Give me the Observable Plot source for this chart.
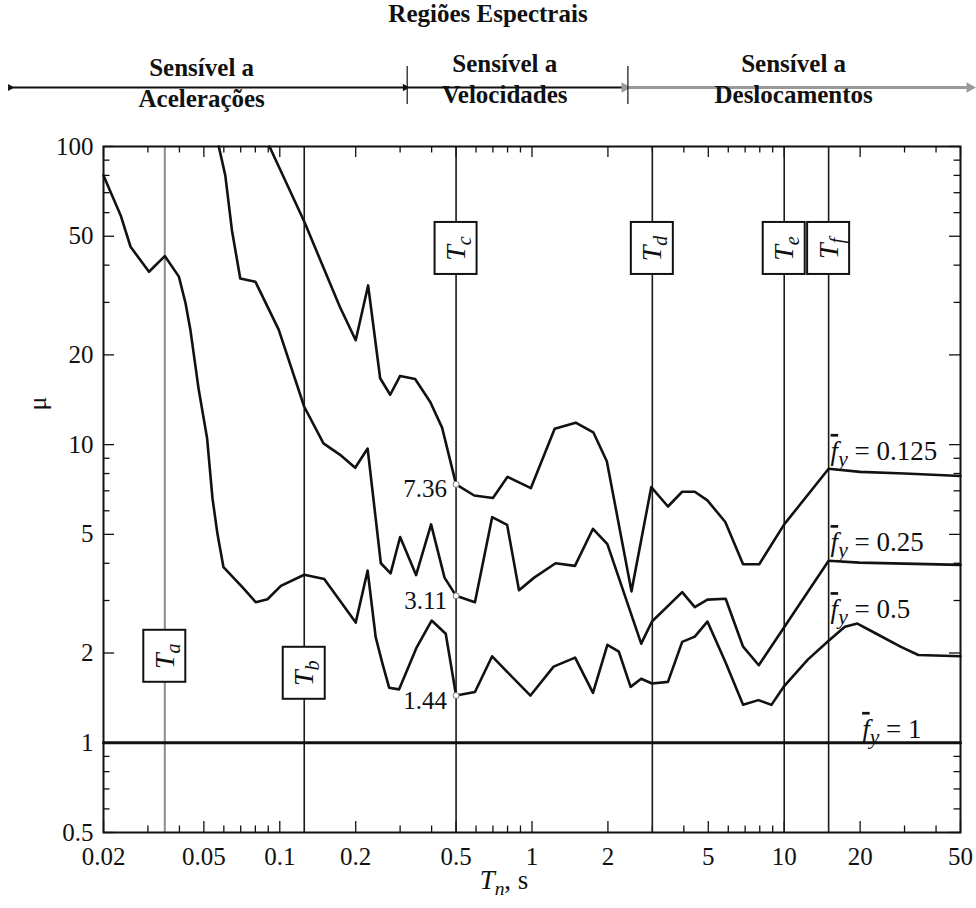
<!DOCTYPE html>
<html>
<head>
<meta charset="utf-8">
<script src="https://cdn.jsdelivr.net/npm/d3@7"></script>
<script src="https://cdn.jsdelivr.net/npm/@observablehq/plot@0.6"></script>
<style>
  body { margin: 0; background: #fff; }
  #title { height: 40px; line-height: 44px; text-align: center; font: bold 25px "Liberation Serif", serif; color: #111; }
  #chart svg { display: block; }
  #chart svg text { font-family: "Liberation Serif", serif; }
</style>
</head>
<body>
<div id="title">Regiões Espectrais</div>
<div id="chart"></div>
<script>
// ---------------- data ----------------
// Normalized yield strength f̄y = 0.125
const T_fy0125 = [0.091, 0.125, 0.173, 0.2, 0.224, 0.25, 0.274, 0.3, 0.344, 0.395, 0.44, 0.5, 0.59, 0.70, 0.80, 0.99, 1.23, 1.49, 1.75, 1.98, 2.48, 2.97, 3.46, 3.94, 4.42, 4.96, 5.84, 6.87, 7.96, 10, 15, 20, 30, 50];
const mu_fy0125 = [100, 56, 29, 22.4, 34.2, 16.7, 14.7, 17.0, 16.6, 13.9, 11.4, 7.36, 6.75, 6.62, 7.8, 7.15, 11.3, 11.85, 11.0, 8.8, 3.22, 7.2, 6.2, 6.95, 6.95, 6.5, 5.5, 3.97, 3.97, 5.4, 8.3, 8.1, 8.0, 7.85];
// f̄y = 0.25
const T_fy025 = [0.0573, 0.0608, 0.0646, 0.0697, 0.08, 0.099, 0.125, 0.149, 0.173, 0.199, 0.223, 0.2516, 0.275, 0.30, 0.347, 0.398, 0.45, 0.5, 0.594, 0.695, 0.797, 0.888, 1.02, 1.24, 1.48, 1.745, 1.99, 2.71, 2.99, 3.94, 4.42, 4.96, 5.86, 6.87, 7.93, 15, 19.85, 50];
const mu_fy025 = [100, 80, 52.4, 36.1, 35.2, 24.3, 13.4, 10.1, 9.26, 8.36, 9.7, 4.0, 3.7, 4.9, 3.65, 5.4, 3.58, 3.11, 2.96, 5.71, 5.38, 3.25, 3.58, 4.0, 3.92, 5.22, 4.64, 2.15, 2.55, 3.2, 2.85, 3.02, 3.04, 2.1, 1.82, 4.08, 4.02, 3.95];
// f̄y = 0.5
const T_fy05 = [0.02, 0.0234, 0.0256, 0.0303, 0.035, 0.0398, 0.0423, 0.0442, 0.0477, 0.0515, 0.0541, 0.0566, 0.0598, 0.0712, 0.0803, 0.0894, 0.101, 0.125, 0.150, 0.175, 0.2, 0.223, 0.240, 0.2555, 0.2714, 0.297, 0.349, 0.40, 0.455, 0.5, 0.594, 0.695, 0.797, 0.986, 1.218, 1.482, 1.745, 1.99, 2.21, 2.46, 2.71, 2.99, 3.46, 3.94, 4.42, 4.96, 5.84, 6.87, 7.9, 8.9, 10, 12.4, 15, 17.4, 19.5, 23, 28.9, 34, 50];
const mu_fy05 = [80, 58.7, 46.1, 38.0, 42.9, 36.6, 29.8, 24.3, 15.3, 10.5, 6.6, 5.02, 3.88, 3.32, 2.96, 3.03, 3.36, 3.66, 3.54, 2.96, 2.53, 3.78, 2.26, 1.84, 1.53, 1.51, 2.09, 2.57, 2.32, 1.44, 1.48, 1.95, 1.73, 1.44, 1.80, 1.93, 1.47, 2.13, 2.02, 1.54, 1.64, 1.58, 1.60, 2.18, 2.27, 2.55, 1.87, 1.34, 1.39, 1.34, 1.55, 1.9, 2.2, 2.45, 2.51, 2.33, 2.10, 1.97, 1.95];
// f̄y = 1 (elastic)
const T_fy1 = [0.02, 50];
const mu_fy1 = [1, 1];

// curve labels
const curveNames = ["0.125", "0.25", "0.5", "1"];
const curveLabelT = [15, 15, 15, 20];
const curveLabelMu = [9.5, 4.7, 2.8, 1.11];

// marked values at Tn = 0.5 s
const markedT = [0.5, 0.5, 0.5];
const markedMu = [7.36, 3.11, 1.44];

// spectral period boundaries Ta ... Tf
const periodNames = ["a", "b", "c", "d", "e", "f"];
const periodT = [0.035, 0.125, 0.5, 3, 10, 15];
const periodBoxMu = [1.95, 1.71, 45.5, 45.5, 45.5, 45.5];

// spectral regions (header)
const regionNames = ["Acelerações", "Velocidades", "Deslocamentos"];
const regionBounds = [0.0087, 0.32, 2.4, 56];
const regionLabelT = [0.049, 0.78, 10.9];
const regionLabelRaise = [65, 69, 69];   // px above the frame top

// axis tick labels
const xTickValues = [0.02, 0.05, 0.1, 0.2, 0.5, 1, 2, 5, 10, 20, 50];
const yTickValues = [0.5, 1, 2, 5, 10, 20, 50, 100];

// ---------------- layout ----------------
const FONT = "Liberation Serif";
const W = 976, H = 868, mL = 103, mR = 16, mT = 106, mB = 76;
const xDomain = [0.02, 50], yDomain = [0.5, 100];
const pxPerDecX = (W - mL - mR) / Math.log10(xDomain[1] / xDomain[0]);
const pxPerDecY = (H - mT - mB) / Math.log10(yDomain[1] / yDomain[0]);
const kx = px => Math.pow(10, px / pxPerDecX);   // factor equal to px pixels along x
const ky = px => Math.pow(10, px / pxPerDecY);   // factor equal to px pixels along y
const above = px => yDomain[1] * ky(px);         // y value px pixels above the frame top

const curves = [
  {fy: "0.125", T: T_fy0125, mu: mu_fy0125},
  {fy: "0.25", T: T_fy025, mu: mu_fy025},
  {fy: "0.5", T: T_fy05, mu: mu_fy05}
];
const rows = [];
curves.forEach(c => c.T.forEach((t, i) => rows.push({fy: c.fy, T: t, mu: c.mu[i]})));
const elasticRows = T_fy1.map((t, i) => ({T: t, mu: mu_fy1[i]}));

const near = (a, b) => Math.abs(a / b - 1) < 1e-6;
const xAllTicks = d3.scaleLog().domain(xDomain).ticks();
const yAllTicks = d3.scaleLog().domain(yDomain).ticks();
const xMinor = xAllTicks.filter(v => !xTickValues.some(m => near(m, v)));
const yMinor = yAllTicks.filter(v => !yTickValues.some(m => near(m, v)));
const majorLen = 11, minorLen = 6.5;

const pIdx = d3.range(periodT.length);
const rIdx = d3.range(regionNames.length);
const cIdx = d3.range(curveNames.length);
const mIdx = d3.range(markedT.length);

const svg = Plot.plot({
  width: W, height: H,
  marginLeft: mL, marginRight: mR, marginTop: mT, marginBottom: mB,
  style: {fontFamily: FONT, fontSize: "25px", color: "#111", background: "white"},
  x: {type: "log", domain: xDomain},
  y: {type: "log", domain: yDomain},
  marks: [
    // inward ticks on all four sides
    Plot.ruleX(xMinor, {x: d => d, y1: yDomain[0], y2: yDomain[0] * ky(minorLen), strokeWidth: 1.3}),
    Plot.ruleX(xTickValues, {x: d => d, y1: yDomain[0], y2: yDomain[0] * ky(majorLen), strokeWidth: 1.3}),
    Plot.ruleX(xMinor, {x: d => d, y1: yDomain[1] / ky(minorLen), y2: yDomain[1], strokeWidth: 1.3}),
    Plot.ruleX(xTickValues, {x: d => d, y1: yDomain[1] / ky(majorLen), y2: yDomain[1], strokeWidth: 1.3}),
    Plot.ruleY(yMinor, {y: d => d, x1: xDomain[0], x2: xDomain[0] * kx(minorLen), strokeWidth: 1.3}),
    Plot.ruleY(yTickValues, {y: d => d, x1: xDomain[0], x2: xDomain[0] * kx(majorLen), strokeWidth: 1.3}),
    Plot.ruleY(yMinor, {y: d => d, x1: xDomain[1] / kx(minorLen), x2: xDomain[1], strokeWidth: 1.3}),
    Plot.ruleY(yTickValues, {y: d => d, x1: xDomain[1] / kx(majorLen), x2: xDomain[1], strokeWidth: 1.3}),

    // axes tick labels
    Plot.axisX(xTickValues, {anchor: "bottom", tickSize: 0, tickPadding: 15, text: d => String(d), fontSize: 25, fontFamily: FONT, label: null}),
    Plot.axisY(yTickValues, {anchor: "left", tickSize: 0, tickPadding: 10, text: d => String(d), fontSize: 25, fontFamily: FONT, label: null}),

    // period boundary lines
    Plot.ruleX(pIdx.filter(i => i === 0), {x: i => periodT[i], stroke: "#8c8c8c", strokeWidth: 2}),
    Plot.ruleX(pIdx.filter(i => i > 0), {x: i => periodT[i], stroke: "#1a1a1a", strokeWidth: 1.6}),
    Plot.rect(pIdx, {
      x1: i => periodT[i] / kx(21), x2: i => periodT[i] * kx(21),
      y1: i => periodBoxMu[i] / ky(26), y2: i => periodBoxMu[i] * ky(26),
      fill: "white", stroke: "#111", strokeWidth: 2
    }),
    Plot.text(pIdx, {x: i => periodT[i], y: i => periodBoxMu[i], text: i => "T" + periodNames[i], rotate: -90, fontSize: 28, fontStyle: "italic", fontFamily: FONT}),

    // elastic line and ductility curves
    Plot.line(elasticRows, {x: "T", y: "mu", stroke: "#111", strokeWidth: 3}),
    Plot.line(rows, {x: "T", y: "mu", z: "fy", stroke: "#111", strokeWidth: 2.6, strokeLinejoin: "round"}),

    // marked values at Tn = 0.5
    Plot.dot(mIdx, {x: i => markedT[i], y: i => markedMu[i], r: 3, fill: "white", stroke: "#777", strokeWidth: 1}),
    Plot.text(mIdx, {x: i => markedT[i], y: i => markedMu[i], text: i => markedMu[i].toFixed(2), textAnchor: "end", dx: -9, dy: 5, fontSize: 25, fontFamily: FONT}),

    // curve labels
    Plot.text(cIdx, {x: i => curveLabelT[i], y: i => curveLabelMu[i], text: i => "fy = " + curveNames[i], textAnchor: "start", dx: 2, fontSize: 27, fontFamily: FONT}),

    // axis titles
    Plot.text(["μ"], {frameAnchor: "left", dx: -66, dy: -79, rotate: -90, fontSize: 26, fontFamily: FONT}),
    Plot.text(["Tn, s"], {frameAnchor: "bottom", dx: -28, dy: 56, fontSize: 27, fontFamily: FONT}),

    // spectral regions header
    Plot.link(rIdx.filter(i => i < 2), {x1: i => regionBounds[i], x2: i => regionBounds[i + 1], y1: above(59), y2: above(59), stroke: "#111", strokeWidth: 2, markerStart: "arrow", markerEnd: "arrow"}),
    Plot.link(rIdx.filter(i => i === 2), {x1: i => regionBounds[i], x2: i => regionBounds[i + 1], y1: above(59), y2: above(59), stroke: "#9a9a9a", strokeWidth: 3, markerStart: "arrow", markerEnd: "arrow"}),
    Plot.ruleX(regionBounds.slice(1, 3), {x: d => d, y1: above(42), y2: above(80), stroke: "#111", strokeWidth: 1.2}),
    Plot.text(rIdx, {x: i => regionLabelT[i], y: i => above(regionLabelRaise[i]), text: i => "Sensível a\n" + regionNames[i], lineHeight: 1.22, fontWeight: "bold", fontSize: 25, fontFamily: FONT}),

    Plot.frame({stroke: "#111", strokeWidth: 2})
  ]
});

document.getElementById("chart").append(svg);

// filled arrowheads for the header arrows
d3.select(svg).selectAll("marker").each(function () {
  const mk = d3.select(this);
  const col = mk.attr("stroke");
  mk.attr("fill", col).attr("stroke", "none");
  mk.selectAll("path").attr("d", "M-3.2,-2.6L1.6,0L-3.2,2.6Z");
});

// rich text: italic symbols, subscripts and overbars
d3.select(svg).selectAll("text").each(function () {
  const t = this.textContent;
  const el = d3.select(this);
  let m;
  if (this.querySelector("tspan")) return;
  if ((m = /^T([a-f])$/.exec(t))) {
    el.text(null);
    el.append("tspan").text("T");
    el.append("tspan").attr("font-size", "0.72em").attr("dy", "6").text(m[1]);
  } else if ((m = /^fy = (.+)$/.exec(t))) {
    el.text(null);
    el.append("tspan").attr("font-style", "italic").style("text-decoration", "overline").text("f");
    el.append("tspan").attr("font-style", "italic").attr("font-size", "0.8em").attr("dy", "6").text("y");
    el.append("tspan").attr("dy", "-6").text(" = " + m[1]);
  } else if (t === "Tn, s") {
    el.text(null);
    el.append("tspan").attr("font-style", "italic").text("T");
    el.append("tspan").attr("font-style", "italic").attr("font-size", "0.72em").attr("dy", "6").text("n");
    el.append("tspan").attr("dy", "-6").text(", s");
  }
});
</script>
</body>
</html>
